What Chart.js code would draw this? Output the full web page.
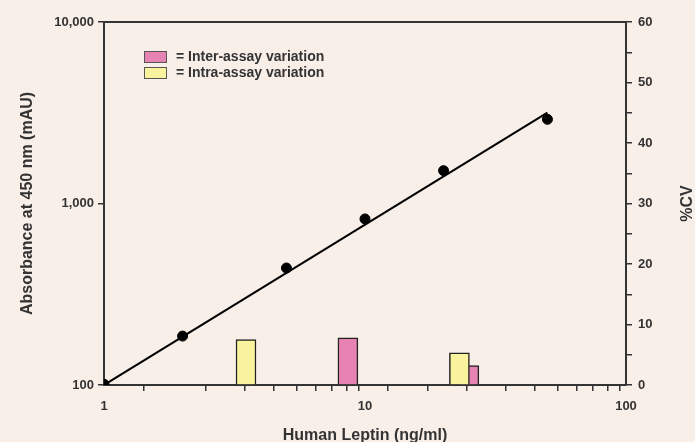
<!DOCTYPE html>
<html lang="en">
<head>
  <meta charset="UTF-8">
  <title>Human Leptin standard curve</title>
  <script src="https://cdn.jsdelivr.net/npm/chart.js"></script>
  <style>
    body {
      margin: 0;
      background-color: #f9efe9;
    }
    #chart {
      display: block;
    }
  </style>
</head>
<body>
  <canvas id="chart" width="695" height="442"></canvas>

  <script>
    // standard curve (absorbance vs concentration)
    const concentration = [1, 2, 5, 10, 20, 50];
    const absorbance = [101, 186, 441, 822, 1517, 2909];

    // fitted line end points
    const fitX = [1, 50];
    const fitY = [100, 3170];

    // %CV bars
    const intraX = [3.5, 23];
    const intraCV = [7.5, 5.3];
    const interX = [8.6, 25];
    const interCV = [7.8, 3.2];

    const yTicks = [100, 1000, 10000];

    const ink = '#333';
    const pink = '#e683b2';
    const yellow = '#f9f39e';
    const tickFont = { family: 'Liberation Sans', size: 13, weight: 'bold' };
    const titleFont = { family: 'Liberation Sans', size: 16, weight: 'bold' };

    const toPoints = (xs, ys) => xs.map((x, i) => ({ x: x, y: ys[i] }));

    // top frame line, right axis title (reads upwards) and legend inside plot
    const extras = {
      id: 'extras',
      afterDatasetsDraw(chart) {
        const ctx = chart.ctx;
        const a = chart.chartArea;
        ctx.save();
        ctx.strokeStyle = ink;
        ctx.lineWidth = 2;
        ctx.beginPath();
        ctx.moveTo(a.left, a.top);
        ctx.lineTo(a.right, a.top);
        ctx.stroke();

        const items = [
          { color: pink, text: '= Inter-assay variation' },
          { color: yellow, text: '= Intra-assay variation' }
        ];
        ctx.font = 'bold 14px "Liberation Sans"';
        ctx.textBaseline = 'middle';
        items.forEach((it, i) => {
          const bx = a.left + 40;
          const by = a.top + 29 + i * 16;
          ctx.fillStyle = it.color;
          ctx.fillRect(bx, by, 23, 12);
          ctx.strokeStyle = '#555';
          ctx.lineWidth = 1;
          ctx.strokeRect(bx + 0.5, by + 0.5, 22, 11);
          ctx.fillStyle = ink;
          ctx.fillText(it.text, bx + 32, by + 6.5);
        });

        ctx.translate(688, (a.top + a.bottom) / 2);
        ctx.rotate(-Math.PI / 2);
        ctx.font = 'bold 16px "Liberation Sans"';
        ctx.textAlign = 'center';
        ctx.fillText('%CV', 0, 0);
        ctx.restore();
      }
    };

    new Chart(document.getElementById('chart'), {
      type: 'scatter',
      data: {
        datasets: [
          {
            type: 'scatter',
            data: toPoints(concentration, absorbance),
            yAxisID: 'y',
            pointRadius: 5,
            pointBackgroundColor: '#000',
            pointBorderColor: '#000'
          },
          {
            type: 'line',
            data: toPoints(fitX, fitY),
            yAxisID: 'y',
            borderColor: '#000',
            borderWidth: 2,
            pointRadius: 0
          },
          {
            type: 'bar',
            label: 'Intra-assay variation',
            data: toPoints(intraX, intraCV),
            yAxisID: 'y2',
            grouped: false,
            barThickness: 20,
            backgroundColor: yellow,
            borderColor: '#222',
            borderWidth: 1.5,
            borderSkipped: 'bottom'
          },
          {
            type: 'bar',
            label: 'Inter-assay variation',
            data: toPoints(interX, interCV),
            yAxisID: 'y2',
            grouped: false,
            barThickness: 20,
            backgroundColor: pink,
            borderColor: '#222',
            borderWidth: 1.5,
            borderSkipped: 'bottom'
          }
        ]
      },
      options: {
        responsive: false,
        animation: false,
        layout: { padding: { top: 22, left: 0, right: 0, bottom: 0 } },
        plugins: {
          legend: { display: false },
          tooltip: { enabled: false }
        },
        scales: {
          x: {
            type: 'logarithmic',
            position: 'bottom',
            min: 1,
            max: 100,
            afterFit: s => { s.height = 57; },
            border: { display: true, color: ink, width: 2 },
            grid: { drawOnChartArea: false, drawTicks: true, tickLength: 6, color: ink, lineWidth: 1.5 },
            ticks: {
              autoSkip: false,
              maxRotation: 0,
              padding: 8,
              color: ink,
              font: tickFont,
              callback: v => Number.isInteger(Math.log10(v)) ? String(v) : ''
            },
            title: {
              display: true,
              text: 'Human Leptin (ng/ml)',
              color: ink,
              font: titleFont,
              padding: { top: 0, bottom: -3 }
            }
          },
          y: {
            type: 'logarithmic',
            position: 'left',
            min: 100,
            max: 10000,
            afterFit: s => { s.width = 104; },
            afterBuildTicks: s => { s.ticks = yTicks.map(v => ({ value: v })); },
            border: { display: true, color: ink, width: 2 },
            grid: { drawOnChartArea: false, drawTicks: true, tickLength: 6, color: ink, lineWidth: 1.5 },
            ticks: {
              padding: 4,
              color: ink,
              font: tickFont,
              callback: v => v.toLocaleString('en-US')
            },
            title: {
              display: true,
              text: 'Absorbance at 450 nm (mAU)',
              color: ink,
              font: titleFont,
              padding: { top: 18 }
            }
          },
          y2: {
            type: 'linear',
            position: 'right',
            min: 0,
            max: 60,
            afterFit: s => { s.width = 69; },
            border: { display: true, color: ink, width: 2 },
            grid: { drawOnChartArea: false, drawTicks: true, tickLength: 6, color: ink, lineWidth: 1.5 },
            ticks: {
              stepSize: 5,
              autoSkip: false,
              padding: 6,
              color: ink,
              font: tickFont,
              callback: v => v % 10 === 0 ? String(v) : ''
            },
            title: { display: false }
          }
        }
      },
      plugins: [extras]
    });
  </script>
</body>
</html>
